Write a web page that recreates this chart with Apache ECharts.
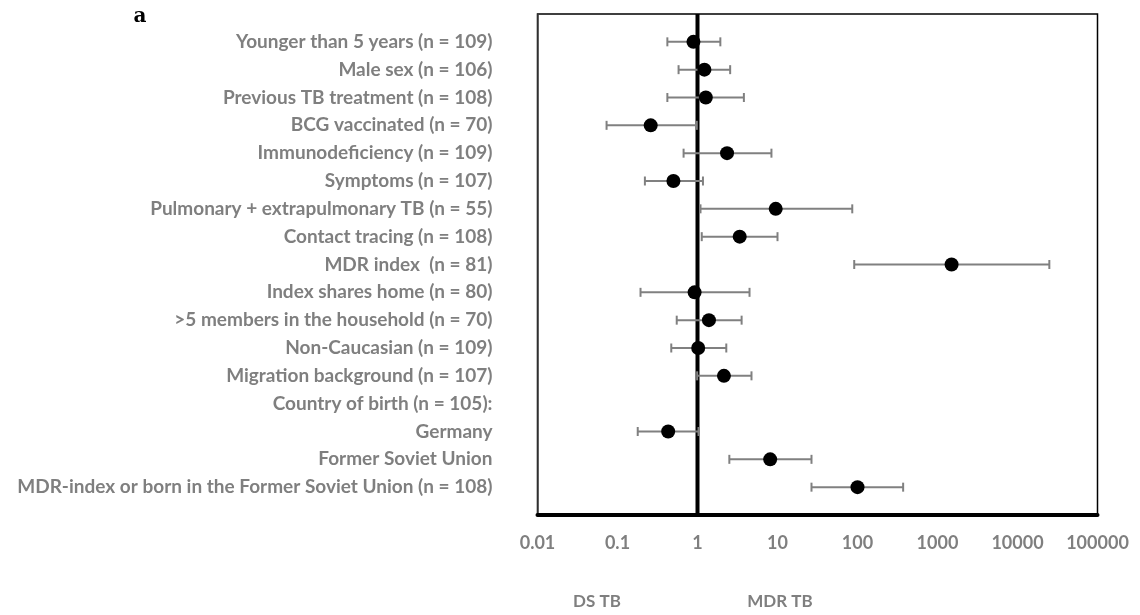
<!DOCTYPE html>
<html>
<head>
<meta charset="utf-8">
<script src="https://cdn.jsdelivr.net/npm/echarts@6/dist/echarts.min.js"></script>
<style>
  html, body { margin: 0; padding: 0; background: #fff; }
  #chart { width: 1140px; height: 615px; }
</style>
</head>
<body>
<div id="chart"></div>
<script>
// row labels, top to bottom (row index = position + 1)
const categories = [
  'Younger than 5 years (n = 109)',
  'Male sex (n = 106)',
  'Previous TB treatment (n = 108)',
  'BCG vaccinated (n = 70)',
  'Immunodeficiency (n = 109)',
  'Symptoms (n = 107)',
  'Pulmonary + extrapulmonary TB (n = 55)',
  'Contact tracing (n = 108)',
  'MDR index  (n = 81)',
  'Index shares home (n = 80)',
  '>5 members in the household (n = 70)',
  'Non-Caucasian (n = 109)',
  'Migration background (n = 107)',
  'Country of birth (n = 105):',
  'Germany',
  'Former Soviet Union',
  'MDR-index or born in the Former Soviet Union (n = 108)'
];

// odds ratio and 95% CI, null = no estimate (header row)
const oddsRatio = [0.89, 1.22, 1.27, 0.26, 2.34, 0.50, 9.5, 3.37, 1500, 0.92, 1.39, 1.02, 2.14, null, 0.43, 8.1, 100];
const ciLower   = [0.42, 0.58, 0.42, 0.073, 0.67, 0.22, 1.09, 1.13, 91, 0.194, 0.55, 0.47, 0.99, null, 0.179, 2.5, 26.6];
const ciUpper   = [1.93, 2.56, 3.8, 0.98, 8.4, 1.17, 86, 10.0, 25000, 4.47, 3.56, 2.29, 4.73, null, 1.03, 26.6, 372];

const tickLabels = ['0.01', '0.1', '1', '10', '100', '1000', '10000', '100000'];
const refLine = 1;

const gray = '#7f7f7f';
const labelFont = 'Lato, "Open Sans", sans-serif';

const points = [];
const bars = [];
oddsRatio.forEach((v, i) => {
  if (v == null) return;
  points.push([v, i + 1]);
  bars.push([ciLower[i], ciUpper[i], i + 1]);
});

const myChart = echarts.init(document.getElementById('chart'));

const option = {
  animation: false,
  grid: {
    left: 537.5,
    right: 42.5,
    top: 14,
    bottom: 100,
    show: true,
    borderColor: '#000',
    borderWidth: 1.5,
    backgroundColor: '#fff'
  },
  xAxis: {
    type: 'log',
    logBase: 10,
    min: 0.01,
    max: 100000,
    axisLine: { show: true, onZero: false, lineStyle: { color: '#000', width: 4 } },
    axisTick: { show: false },
    splitLine: { show: false },
    axisLabel: {
      color: gray,
      fontFamily: labelFont,
      fontWeight: 'bold',
      fontSize: 18,
      margin: 19,
      formatter: function (val) {
        const k = Math.round(Math.log10(val)) + 2;
        return tickLabels[k] || '';
      }
    }
  },
  yAxis: {
    type: 'value',
    inverse: true,
    min: 0,
    max: 18,
    interval: 1,
    axisLine: { show: true, onZero: false, lineStyle: { color: '#404040', width: 1.5 } },
    axisTick: { show: false },
    splitLine: { show: false },
    axisLabel: {
      color: gray,
      fontFamily: labelFont,
      fontWeight: 'bold',
      fontSize: 19,
      margin: 45,
      formatter: function (val) {
        return categories[val - 1] || '';
      }
    }
  },
  graphic: [
    { type: 'text', x: 140, y: 17, style: { text: 'a', font: 'bold 20px "DejaVu Serif", serif', fill: '#000', align: 'center', verticalAlign: 'middle' } },
    { type: 'text', x: 597, y: 602, style: { text: 'DS TB', font: 'bold 17px ' + labelFont, fill: gray, align: 'center', verticalAlign: 'middle' } },
    { type: 'text', x: 780, y: 602, style: { text: 'MDR TB', font: 'bold 17px ' + labelFont, fill: gray, align: 'center', verticalAlign: 'middle' } }
  ],
  series: [
    {
      name: 'ref',
      type: 'line',
      data: [[refLine, 0], [refLine, 18]],
      symbol: 'none',
      lineStyle: { color: '#000', width: 4 },
      z: 3
    },
    {
      name: 'CI',
      type: 'custom',
      data: bars,
      renderItem: function (params, api) {
        const y = api.value(2);
        const p1 = api.coord([api.value(0), y]);
        const p2 = api.coord([api.value(1), y]);
        const h = 4.5;
        const style = { stroke: '#808080', lineWidth: 2 };
        return {
          type: 'group',
          children: [
            { type: 'line', shape: { x1: p1[0], y1: p1[1], x2: p2[0], y2: p2[1] }, style: style },
            { type: 'line', shape: { x1: p1[0], y1: p1[1] - h, x2: p1[0], y2: p1[1] + h }, style: style },
            { type: 'line', shape: { x1: p2[0], y1: p2[1] - h, x2: p2[0], y2: p2[1] + h }, style: style }
          ]
        };
      },
      z: 4
    },
    {
      name: 'OR',
      type: 'scatter',
      data: points,
      symbol: 'circle',
      symbolSize: 14,
      itemStyle: { color: '#000', opacity: 1 },
      z: 5
    }
  ]
};

myChart.setOption(option);
</script>
</body>
</html>
